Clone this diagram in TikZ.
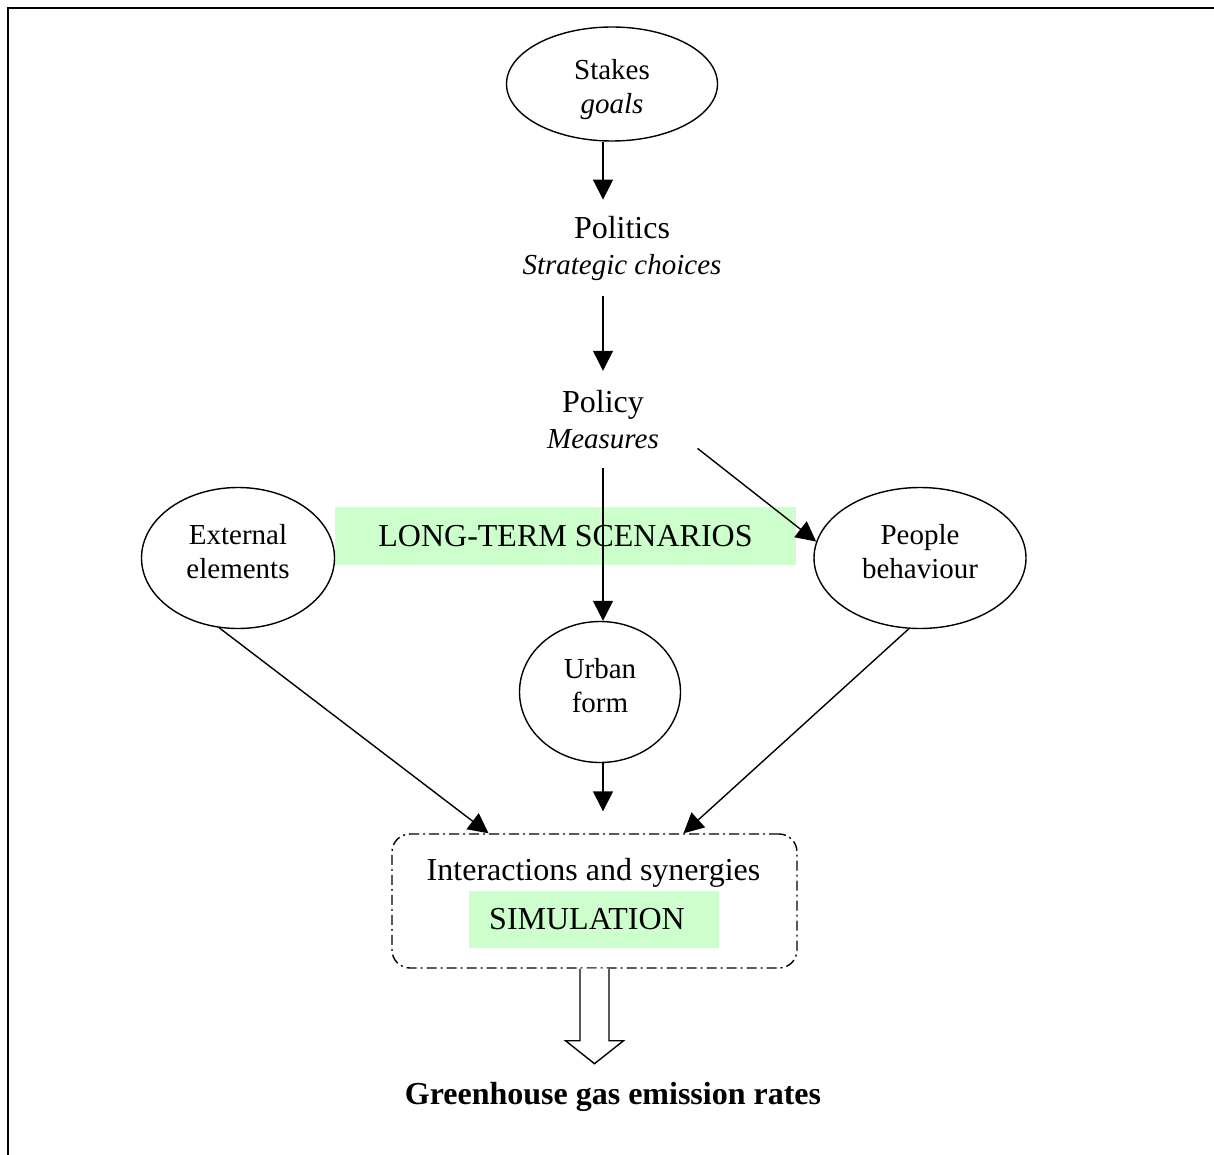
\documentclass[tikz,border=0pt]{standalone}
\usepackage{fontspec}
\setmainfont{Liberation Serif}
\usepackage{tikz}
\usetikzlibrary{arrows.meta, shapes.geometric}

\definecolor{palegreen}{HTML}{CCFFCC}
\newcommand{\bigtxt}{\fontsize{32}{36}\selectfont}
\newcommand{\smalltxt}{\fontsize{29}{34}\selectfont}

\tikzset{
        bubble/.style={ellipse, draw, line width=1.4pt, inner sep=0pt, align=center, font=\smalltxt},
        plain/.style={inner ysep=16pt, inner xsep=4pt, align=center, font=\bigtxt},
        link/.style={-{Triangle[length=20pt, width=20pt]}, line width=1.4pt},
        greenbox/.style={fill=palegreen, inner sep=0pt, font=\bigtxt}
}

\begin{document}
\begin{tikzpicture}[x=1pt, y=-1pt]
        \useasboundingbox (0,0) rectangle (1214,1155);

        % Frame
        \draw[line width=2pt] (8,1155) -- (8,8) -- (1214,8);

        % Top chain
        \node[bubble, minimum width=211pt, minimum height=114pt] (stakes) at (612,84) {\rule{0pt}{31pt}Stakes\\ \textit{goals}};
        \node[plain] (politics) at (622,248) {Politics\\ {\smalltxt\itshape Strategic choices}};
        \node[plain, inner ysep=19.25pt, inner xsep=38.5pt] (policy) at (603,419.5) {Policy\\ {\smalltxt\itshape Measures}};

        % Scenario band
        \node[greenbox, minimum width=461pt, minimum height=58pt] (scen) at (565.5,536) {LONG-TERM SCENARIOS};

        % Middle ellipses
        \node[bubble, minimum width=193pt, minimum height=141pt] (ext) at (238,558) {External\\ elements\rule[-13pt]{0pt}{13pt}};
        \node[bubble, minimum width=212pt, minimum height=141pt] (people) at (920,558) {People\\ behaviour\rule[-13pt]{0pt}{13pt}};
        \node[bubble, minimum width=161pt, minimum height=141pt] (urban) at (600,692) {Urban\\ form\rule[-13pt]{0pt}{13pt}};

        % Simulation box
        \node[draw, line width=1.4pt, rounded corners=18pt, dash pattern=on 10pt off 4pt on 2pt off 4pt,
              minimum width=405pt, minimum height=134pt, inner sep=0pt] (box) at (594.5,901) {};
        \node[font=\bigtxt, inner sep=0pt] (inter) at (593.5,873) {Interactions and synergies};
        \node[greenbox, minimum width=250pt, minimum height=57pt] (sim) at (594,919.5) {SIMULATION\kern14pt};

        % Result
        \node[font=\bigtxt\bfseries, inner sep=0pt] (ghg) at (613,1097) {Greenhouse gas emission rates};

        % Arrows
        \draw[link] (stakes.south -| policy) -- (politics.north -| policy);
        \draw[link] (politics.south -| policy) -- (policy.north);
        \draw[link] (policy.south) -- (urban.north -| policy);
        \draw[link] (policy.-17) -- (people.171);
        \draw[link] (ext.255) -- ([xshift=-106pt]box.north);
        \draw[link] (people.261) -- ([xshift=89pt]box.north);
        \draw[link, shorten >=22pt] (urban.south -| policy) -- (box.north -| policy);

        % Output arrow
        \draw[line width=1.4pt, fill=white] ([xshift=-14.5pt]box.south) -- ++(0,72) -- ++(-14.5,0)
              -- ++(29,23) -- ++(29,-23) -- ++(-14.5,0) -- ++(0,-72);
\end{tikzpicture}
\end{document}
